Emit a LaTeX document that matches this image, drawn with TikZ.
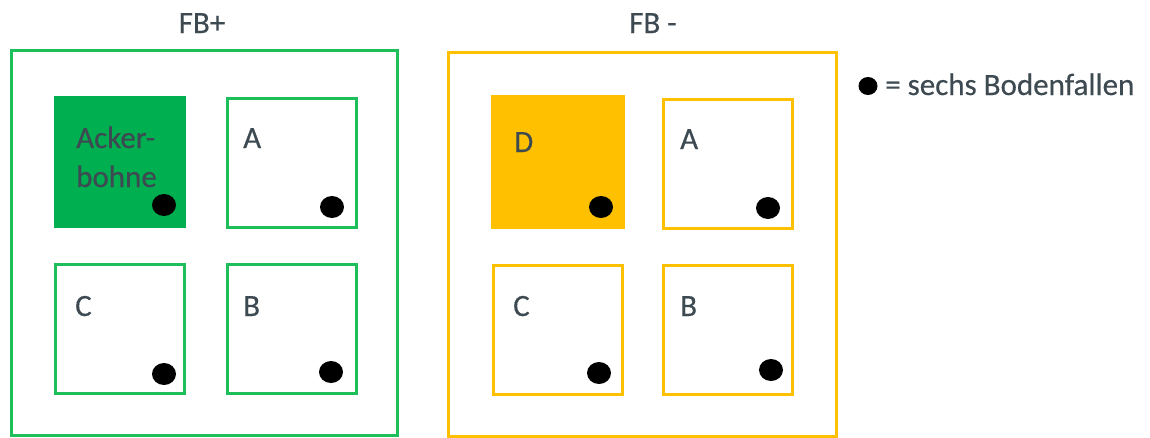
\documentclass[tikz,border=0pt]{standalone}
\usepackage{fontspec}
\setmainfont{Carlito}[FakeBold=0.4]
\usetikzlibrary{shapes.geometric}
\definecolor{txt}{HTML}{3E4A52}
\definecolor{grn}{HTML}{00B050}
\definecolor{grnline}{HTML}{1EBE5A}
\definecolor{ylw}{HTML}{FFC000}
\begin{document}
\begin{tikzpicture}[x=1pt,y=-1pt,
  lbl/.style={anchor=base west,inner sep=0pt,text=txt,font=\fontsize{31}{38}\selectfont},
  ttl/.style={anchor=base,inner sep=0pt,text=txt,font=\fontsize{31}{38}\selectfont},
  outer/.style={draw,line width=3pt,minimum width=386pt,minimum height=385pt,inner sep=0pt},
  plot/.style={draw,line width=3pt,minimum width=129pt,minimum height=129pt,inner sep=0pt},
  trap/.style={ellipse,fill=black,minimum width=24pt,minimum height=22pt,inner sep=0pt},
]
\useasboundingbox (0,0) rectangle (1150,437);
% titles
\node[ttl] (t1) at (202,33) {FB+};
\node[ttl] (t2) at (653,33) {FB -};
% outer fields
\node[outer,grnline] (o1) at (204,242.5) {};
\node[outer,ylw,minimum width=388pt,minimum height=384pt] (o2) at (642,244) {};
% left plots
\node[plot,draw=grn,fill=grn] (p1) at (120,161.5) {};
\node[plot,grnline] (p2) at (291.5,162.5) {};
\node[plot,grnline] (p3) at (120,329) {};
\node[plot,grnline] (p4) at (291.5,329) {};
% right plots
\node[plot,draw=ylw,fill=ylw,minimum width=131pt,minimum height=131pt] (q1) at (557.5,161.5) {};
\node[plot,ylw] (q2) at (728,163.5) {};
\node[plot,ylw] (q3) at (558,330) {};
\node[plot,ylw] (q4) at (728,330) {};
% labels
\node[lbl] (l1) at (76,148) {Acker-};
\node[lbl] (l1b) at (76,187) {bohne};
\node[lbl] (l2) at (243,148) {A};
\node[lbl] (l3) at (75,316) {C};
\node[lbl] (l4) at (243,316) {B};
\node[lbl] (m1) at (514,152) {D};
\node[lbl] (m2) at (680,149) {A};
\node[lbl] (m3) at (513,316) {C};
\node[lbl] (m4) at (680,316) {B};
% traps
\node[trap] (d1) at (164,205) {};
\node[trap] (d2) at (332,207) {};
\node[trap] (d3) at (164,374) {};
\node[trap] (d4) at (331,372) {};
\node[trap] (e1) at (601,207) {};
\node[trap] (e2) at (768,208) {};
\node[trap] (e3) at (599,373) {};
\node[trap] (e4) at (771,370) {};
% legend
\node[trap,minimum width=19pt,minimum height=18pt] (leg) at (868,86) {};
\node[lbl] (legt) at (885,95) {= sechs Bodenfallen};
\end{tikzpicture}
\end{document}
